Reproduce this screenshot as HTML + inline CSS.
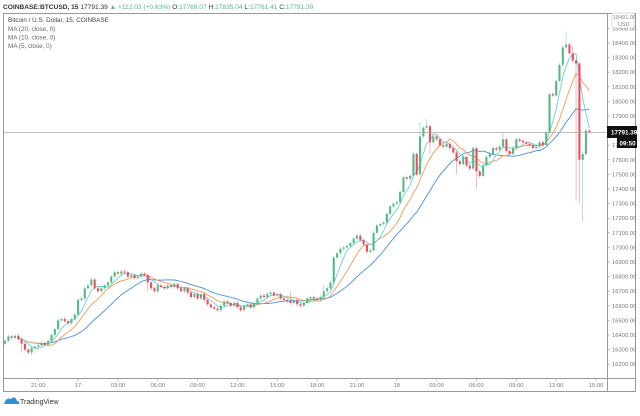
<!DOCTYPE html>
<html><head><meta charset="utf-8"><style>
html,body{margin:0;padding:0;background:#fff;}
body{width:640px;height:416px;overflow:hidden;font-family:"Liberation Sans",sans-serif;}
svg{display:block}
</style></head><body>
<svg id="chart" width="640" height="416" viewBox="0 0 640 416" xmlns="http://www.w3.org/2000/svg" font-family="Liberation Sans, sans-serif">
<rect x="0" y="0" width="640" height="416" fill="#fff"/>
<text x="3" y="9" font-size="6.6" fill="#333"><tspan font-weight="bold">COINBASE:BTCUSD, 15</tspan> 17791.39 <tspan fill="#53b987">▲ +112.03 (+0.63%)</tspan> O:<tspan fill="#53b987">17768.07</tspan> H:<tspan fill="#53b987">17835.04</tspan> L:<tspan fill="#53b987">17761.41</tspan> C:<tspan fill="#53b987">17791.39</tspan></text>
<rect x="3.5" y="13.5" width="632" height="378" fill="none" stroke="#999" stroke-width="1"/>
<line x1="607.5" y1="13" x2="607.5" y2="391" stroke="#999"/>
<line x1="3" y1="378.5" x2="636" y2="378.5" stroke="#999"/>
<g font-size="6.3" fill="#444">
<text x="8" y="22">Bitcoin / U.S. Dollar, 15, COINBASE</text>
<text x="8" y="31" fill="#666">MA (20, close, 0)</text>
<text x="8" y="39.5" fill="#666">MA (10, close, 0)</text>
<text x="8" y="48" fill="#666">MA (5, close, 0)</text>
</g>
<g id="yaxis"></g><g id="xaxis"></g><g id="marks"></g>
<line x1="3" y1="132.5" x2="607" y2="132.5" stroke="#aaa" stroke-width="0.8"/>
<rect x="607" y="126" width="30" height="12" fill="#111"/>
<text x="611" y="134.5" font-size="6.3" fill="#fff" font-weight="bold">17791.39</text>
<rect x="617" y="138" width="20" height="10" fill="#111"/>
<text x="619.5" y="145.5" font-size="6.3" fill="#fff" font-weight="bold">09:50</text>
<rect x="612" y="13" width="22" height="15" fill="#fff" stroke="#bbb" stroke-width="0.5"/>
<text x="613" y="19" font-size="5.5" fill="#888">18491.00</text>
<text x="618" y="26" font-size="5.5" fill="#888">USD</text>
<g>
<path d="M4 404 Q6 397 11 399 Q15 395 17 401 Q20 401 19 404 Z" fill="#2f8fd8"/>
<text x="20" y="404" font-size="7" fill="#333">TradingView</text>
</g>
</svg>
<script>
const closes=[16360,16390,16380,16395,16370,16340,16300,16280,16310,16320,
16330,16345,16335,16360,16400,16440,16500,16510,16495,16480,
16510,16540,16640,16650,16720,16740,16780,16720,16700,16720,
16740,16760,16800,16830,16820,16835,16830,16800,16810,16790,
16800,16820,16810,16760,16720,16700,16740,16730,16720,16740,
16730,16750,16720,16700,16720,16690,16660,16680,16650,16680,
16640,16610,16590,16580,16570,16600,16630,16620,16600,16620,
16590,16570,16600,16610,16590,16620,16650,16670,16660,16680,
16690,16670,16680,16650,16640,16630,16620,16640,16610,16600,
16620,16650,16660,16650,16640,16660,16700,16720,16760,16930,
16960,16990,17000,17010,17030,17060,17080,17050,17020,16970,
16980,17100,17150,17160,17170,17230,17280,17300,17310,17380,
17480,17470,17490,17640,17500,17760,17820,17830,17720,17760,
17740,17700,17690,17710,17680,17650,17590,17570,17620,17560,
17540,17680,17520,17490,17560,17620,17640,17680,17670,17690,
17740,17660,17640,17680,17740,17730,17720,17710,17700,17680,
17690,17720,17700,17790,18050,18040,18140,18250,18370,18390,
18330,18280,18260,17600,17640,17800,17791];
const firstOpen=16340;
const lowSpikes={5:16280,8:16260,43:16700,128:17640,136:17500,142:17400,163:17700,172:17320,173:17300,174:17180};
const highSpikes={125:17860,127:17880,150:17790,169:18480,171:18380,96:16740,86:16700};
const priceTicks=[18500,18400,18300,18200,18100,18000,17900,17800,17700,17600,17500,17400,17300,17200,17100,17000,16900,16800,16700,16600,16500,16400,16300,16200];
const timeLabels=["21:00","17","03:00","06:00","09:00","12:00","15:00","18:00","21:00","18","03:00","06:00","09:00","12:00","15:00"];
const NS="http://www.w3.org/2000/svg";
const y=p=>43+(18400-p)*0.146;
const x=i=>5+i*3.32;
function mk(t,a,parent){const e=document.createElementNS(NS,t);for(const k in a)e.setAttribute(k,a[k]);parent.appendChild(e);return e;}
const yax=document.getElementById('yaxis'),xax=document.getElementById('xaxis'),marks=document.getElementById('marks');
priceTicks.forEach(p=>{
 const t=mk('text',{x:612,y:y(p)+2,'font-size':5.8,fill:'#777'},yax);
 
 
 t.textContent=p.toFixed(2);
 mk('line',{x1:607,x2:610,y1:y(p),y2:y(p),stroke:'#999','stroke-width':0.6},yax);
});
timeLabels.forEach((s,k)=>{
 const xi=x(10+12*k);
 const t=mk('text',{x:xi,y:387,'font-size':5.8,fill:'#777','text-anchor':'middle'},xax);
 
 
 t.textContent=s;
 mk('line',{x1:xi,x2:xi,y1:378,y2:381,stroke:'#999','stroke-width':0.6},xax);
});
function ma(n){const out=[];for(let i=0;i<closes.length;i++){const s=closes.slice(Math.max(0,i-n+1),i+1);out.push(s.reduce((a,b)=>a+b,0)/s.length);}return out;}
[[20,'#4a90d9','ma20-line'],[10,'#f29a57','ma10-line'],[5,'#6fcfdc','ma5-line']].forEach(([n,c,name])=>{
 const v=ma(n);const start=Math.min(n-1,4);
 const d=v.map((p,i)=>(i===start?'M':'L')+x(i).toFixed(1)+' '+y(p).toFixed(1)).slice(start).join(' ');
 const el=mk('path',{d:d,fill:'none',stroke:c,'stroke-width':0.9},marks);
 
 
});
closes.forEach((c,i)=>{
 const o=i===0?firstOpen:closes[i-1];
 const up=c>=o;const col=up?'#53b987':'#eb4d5c';
 const hi=highSpikes[i]!==undefined?highSpikes[i]:Math.max(o,c)+12;
 const lo=lowSpikes[i]!==undefined?lowSpikes[i]:Math.min(o,c)-12;
 const w=mk('line',{x1:x(i),x2:x(i),y1:y(hi),y2:y(lo),stroke:col,'stroke-width':0.5,opacity:0.8},marks);
 
 
 const top=y(Math.max(o,c)),h=Math.max(1,Math.abs(y(o)-y(c)));
 const b=mk('rect',{x:x(i)-1,y:top,width:2.1,height:h,fill:col},marks);
 
 
});
</script>
</body></html>
